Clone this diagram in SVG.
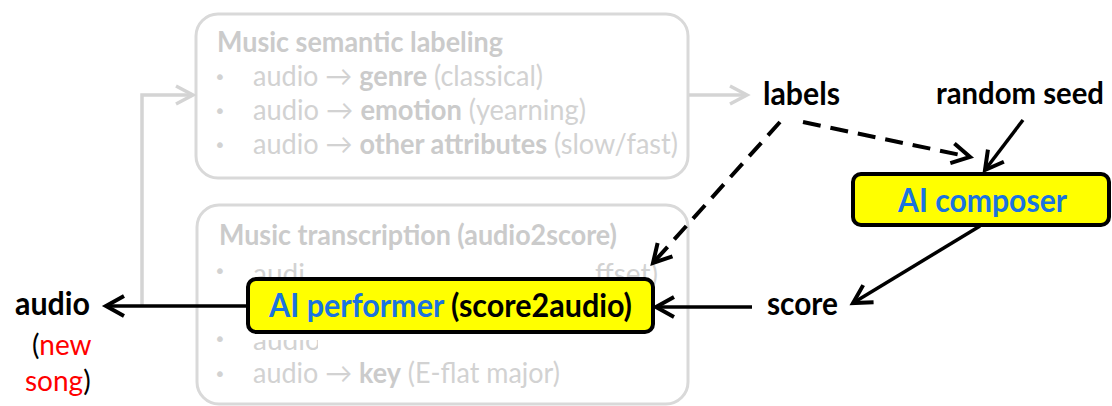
<svg xmlns="http://www.w3.org/2000/svg" width="1112" height="406" viewBox="0 0 1112 406">
<style>
.g{font-family:Lato,"Open Sans","DejaVu Sans",sans-serif;fill:#d2d2d2;font-size:28px}
.gb{font-weight:bold;fill:#cbcbcb}
.bul{font-family:"DejaVu Sans",sans-serif;fill:#d2d2d2;font-size:20px}
.k{font-family:Lato,"Open Sans","DejaVu Sans",sans-serif;font-weight:bold;font-size:32px;fill:#000}
.n{font-family:Lato,"Open Sans","DejaVu Sans",sans-serif;font-size:28px;fill:#000}
.blue{fill:#1a73e0}
.red{fill:#ff0000}
.gbox{fill:none;stroke:#d9d9d9;stroke-width:3}
.ybox{fill:#ffff00;stroke:#000;stroke-width:4}
.line{stroke:#000;stroke-width:3.5;fill:none}
.dash{stroke-width:4;stroke-dasharray:18 10}
.gline{stroke:#d4d4d4;stroke-width:3.5;fill:none}
</style>
<defs>
<marker id="ah" markerUnits="userSpaceOnUse" viewBox="-22 -14 26 28" refX="0" refY="0" markerWidth="26" markerHeight="28" orient="auto" overflow="visible">
<path d="M-18,-10 L0,0 L-18,10" fill="none" stroke="#000" stroke-width="4" stroke-dasharray="none"/>
</marker>
<marker id="gah" markerUnits="userSpaceOnUse" viewBox="-22 -14 26 28" refX="0" refY="0" markerWidth="26" markerHeight="28" orient="auto" overflow="visible">
<path d="M-17,-9 L0,0 L-17,9" fill="none" stroke="#d4d4d4" stroke-width="3.5"/>
</marker>
<clipPath id="cl4"><rect x="240" y="340" width="78" height="20"/></clipPath>
</defs>

<g id="semantic-labeling">
<rect class="gbox" x="196" y="14" width="492" height="164" rx="22"/>
<text class="g gb" x="217" y="52" textLength="286" lengthAdjust="spacingAndGlyphs">Music semantic labeling</text>
<text class="bul" x="214" y="84">•</text>
<text class="bul" x="214" y="118">•</text>
<text class="bul" x="214" y="152">•</text>
<text class="g" x="253" y="86" textLength="290" lengthAdjust="spacingAndGlyphs">audio → <tspan class="gb">genre</tspan> (classical)</text>
<text class="g" x="253" y="120" textLength="333" lengthAdjust="spacingAndGlyphs">audio → <tspan class="gb">emotion</tspan> (yearning)</text>
<text class="g" x="253" y="154" textLength="425" lengthAdjust="spacingAndGlyphs">audio → <tspan class="gb">other attributes</tspan> (slow/fast)</text>
</g>

<g id="transcription">
<rect class="gbox" x="197" y="205" width="491" height="199" rx="22"/>
<text class="g gb" x="219" y="245" textLength="398" lengthAdjust="spacingAndGlyphs">Music transcription (audio2score)</text>
<text class="bul" x="214" y="278">•</text>
<text class="g" x="253" y="284">audi</text>
<text class="g" x="658" y="284" text-anchor="end">ffset)</text>
<text class="bul" x="214" y="346">•</text>
<text class="g" x="253" y="350" clip-path="url(#cl4)">audio</text>
<text class="bul" x="214" y="381">•</text>
<text class="g" x="253" y="383" textLength="307" lengthAdjust="spacingAndGlyphs">audio → <tspan class="gb">key</tspan> (E-flat major)</text>
</g>

<g id="connectors">
<path class="gline" d="M142,306 V95 H193" marker-end="url(#gah)"/>
<path class="gline" d="M689,95 H747" marker-end="url(#gah)"/>
<path class="line" d="M248,306 H106" marker-end="url(#ah)"/>
<path class="line" d="M752,307 H656" marker-end="url(#ah)"/>
<path class="line dash" d="M780,122 L653,263" marker-end="url(#ah)"/>
<path class="line dash" d="M803,122 L970,157" marker-end="url(#ah)"/>
<path class="line" d="M1023,120 L985,170" marker-end="url(#ah)"/>
<path class="line" d="M980,226 L853,303" marker-end="url(#ah)"/>
</g>

<g id="labels"><text class="k" x="763" y="105" textLength="77" lengthAdjust="spacingAndGlyphs">labels</text></g>
<g id="random-seed"><text class="k" style="font-size:30px" x="936" y="104" textLength="168" lengthAdjust="spacingAndGlyphs">random seed</text></g>

<g id="ai-composer">
<rect class="ybox" x="853" y="174" width="256" height="51" rx="8"/>
<text class="k blue" x="898" y="212" textLength="169" lengthAdjust="spacingAndGlyphs">AI composer</text>
</g>

<g id="ai-performer">
<rect class="ybox" x="248" y="279" width="405" height="53" rx="8"/>
<text class="k" x="269" y="317" textLength="363" lengthAdjust="spacingAndGlyphs"><tspan class="blue">AI performer</tspan> (score2audio)</text>
</g>

<g id="score"><text class="k" x="767" y="315" textLength="71" lengthAdjust="spacingAndGlyphs">score</text></g>

<g id="audio">
<text class="k" x="15" y="315" textLength="75" lengthAdjust="spacingAndGlyphs">audio</text>
<text class="n" x="32" y="355">(<tspan class="red">new</tspan></text>
<text class="n" x="25" y="391"><tspan class="red">song</tspan>)</text>
</g>
</svg>
